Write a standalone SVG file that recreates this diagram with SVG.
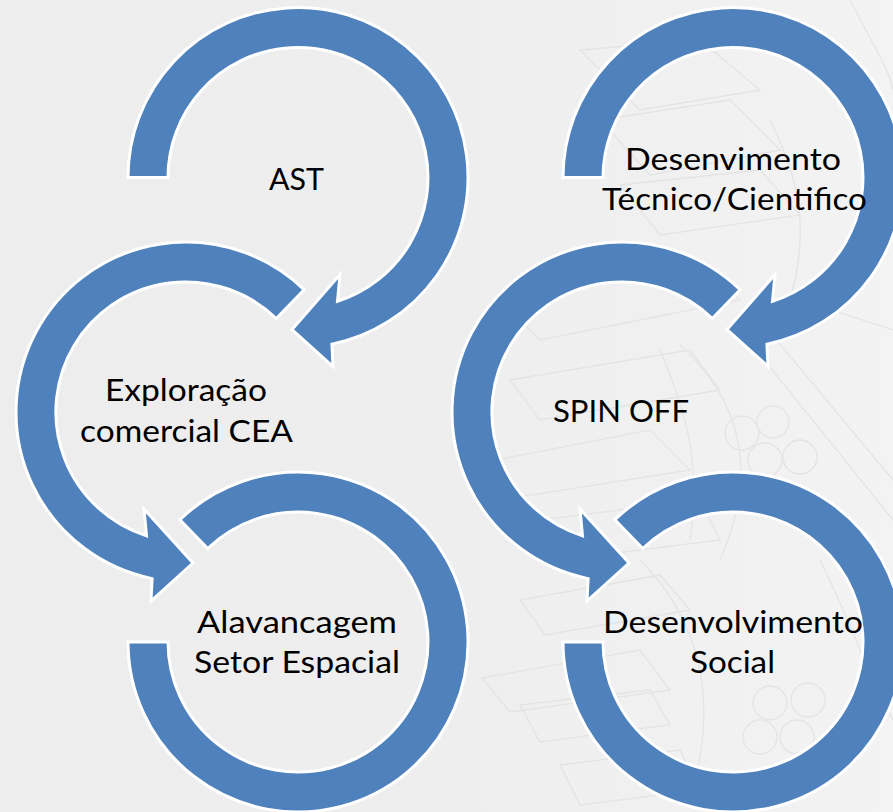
<svg xmlns="http://www.w3.org/2000/svg" xmlns:xlink="http://www.w3.org/1999/xlink" width="893" height="812" viewBox="0 0 893 812">
  <style>
    .ring { fill: #4F81BD; stroke: #FFFFFF; stroke-width: 3; stroke-linejoin: miter; }
    .lbl { font-family: "Lato", "Open Sans", "Liberation Sans", sans-serif; font-size: 31px; fill: #000000; text-anchor: middle; }
    .wm { fill: none; stroke: #E4E4E4; stroke-width: 1.3; }
  </style>
  <defs>
    <linearGradient id="bg" x1="0" y1="0" x2="1" y2="0">
      <stop offset="0" stop-color="#EDEDED"/>
      <stop offset="0.5" stop-color="#EEEEEE"/>
      <stop offset="1" stop-color="#F3F3F3"/>
    </linearGradient>
    <!-- clockwise circular arrow: starts flat at left, arrowhead at bottom -->
    <path id="arrowCW" d="M -170 0 A 170 170 0 1 1 33.9 166.6 L 35 189 L -6 152 L 42 97 L 39.5 123.8 A 130 130 0 1 0 -130 0 Z"/>
    <!-- counter-clockwise circular arrow: starts cut at upper right, arrowhead at bottom -->
    <path id="arrowCCW" d="M 118.1 -122.3 A 170 170 0 1 0 -33.9 166.6 L -35 189 L 7 151 L -42 97 L -39.5 123.8 A 130 130 0 1 1 90.3 -93.5 Z"/>
    <!-- final ring without arrowhead -->
    <path id="ringEnd" d="M -118.1 -122.3 A 170 170 0 1 1 -170 0 L -130 0 A 130 130 0 1 0 -90.3 -93.5 Z"/>
  </defs>

  <rect x="0" y="0" width="893" height="812" fill="url(#bg)"/>

  <g id="watermark">
    <path class="wm" d="M 580 50 L 700 40 L 760 90 L 640 110 Z"/>
    <path class="wm" d="M 600 120 L 730 100 L 780 150 L 650 175 Z"/>
    <path class="wm" d="M 620 185 L 760 170 L 800 215 L 660 235 Z"/>
    <path class="wm" d="M 500 300 L 700 260 L 740 300 L 540 340 Z"/>
    <path class="wm" d="M 510 380 L 690 350 L 720 390 L 540 420 Z"/>
    <path class="wm" d="M 470 465 L 650 430 L 690 470 L 500 500 Z"/>
    <path class="wm" d="M 540 520 L 700 500 L 720 540 L 560 560 Z"/>
    <path class="wm" d="M 520 600 L 660 575 L 690 610 L 545 635 Z"/>
    <path class="wm" d="M 482 678 L 640 650 L 670 690 L 510 712 Z"/>
    <path class="wm" d="M 520 705 L 650 690 L 670 725 L 540 742 Z"/>
    <path class="wm" d="M 560 765 L 680 750 L 700 790 L 580 805 Z"/>
    <path class="wm" d="M 660 350 C 690 420 700 470 690 540"/>
    <path class="wm" d="M 680 345 C 740 400 760 470 720 560"/>
    <path class="wm" d="M 770 120 C 800 180 810 230 790 300"/>
    <path class="wm" d="M 740 330 L 893 520"/>
    <path class="wm" d="M 760 320 L 893 480"/>
    <path class="wm" d="M 800 300 L 893 330"/>
    <path class="wm" d="M 820 40 C 860 80 880 140 870 200"/>
    <path class="wm" d="M 850 0 C 870 40 890 70 893 90"/>
    <circle class="wm" cx="742" cy="433" r="17"/>
    <circle class="wm" cx="773" cy="422" r="16"/>
    <circle class="wm" cx="765" cy="460" r="17"/>
    <circle class="wm" cx="800" cy="457" r="17"/>
    <circle class="wm" cx="770" cy="703" r="17"/>
    <circle class="wm" cx="808" cy="700" r="17"/>
    <circle class="wm" cx="760" cy="737" r="17"/>
    <circle class="wm" cx="797" cy="737" r="17"/>
    <path class="wm" d="M 640 560 C 700 620 720 700 690 800"/>
    <path class="wm" d="M 820 560 C 850 620 870 680 893 720"/>
  </g>

  <g id="connectors"></g>

  <g id="node-ast">
    <use xlink:href="#arrowCW" class="ring" transform="translate(298,177.5)"/>
    <text class="lbl" x="296.5" y="190" textLength="55" lengthAdjust="spacingAndGlyphs">AST</text>
  </g>

  <g id="node-exploracao">
    <use xlink:href="#arrowCCW" class="ring" transform="translate(186,412)"/>
    <text class="lbl" x="186" y="401" textLength="162" lengthAdjust="spacingAndGlyphs">Exploração</text>
    <text class="lbl" x="186.5" y="442" textLength="213" lengthAdjust="spacingAndGlyphs">comercial CEA</text>
  </g>

  <g id="node-alavancagem">
    <use xlink:href="#ringEnd" class="ring" transform="translate(298,642)"/>
    <text class="lbl" x="297" y="633" textLength="200" lengthAdjust="spacingAndGlyphs">Alavancagem</text>
    <text class="lbl" x="297" y="673" textLength="206" lengthAdjust="spacingAndGlyphs">Setor Espacial</text>
  </g>

  <g id="node-desenvimento">
    <use xlink:href="#arrowCW" class="ring" transform="translate(733,177.5)"/>
    <text class="lbl" x="733" y="170" textLength="216" lengthAdjust="spacingAndGlyphs">Desenvimento</text>
    <text class="lbl" x="734.5" y="210" textLength="265" lengthAdjust="spacingAndGlyphs">Técnico/Cientifico</text>
  </g>

  <g id="node-spinoff">
    <use xlink:href="#arrowCCW" class="ring" transform="translate(622,412)"/>
    <text class="lbl" x="621" y="422" textLength="136" lengthAdjust="spacingAndGlyphs">SPIN OFF</text>
  </g>

  <g id="node-desenvolvimento-social">
    <use xlink:href="#ringEnd" class="ring" transform="translate(733,642)"/>
    <text class="lbl" x="733" y="633" textLength="260" lengthAdjust="spacingAndGlyphs">Desenvolvimento</text>
    <text class="lbl" x="732.5" y="673" textLength="85" lengthAdjust="spacingAndGlyphs">Social</text>
  </g>
</svg>
